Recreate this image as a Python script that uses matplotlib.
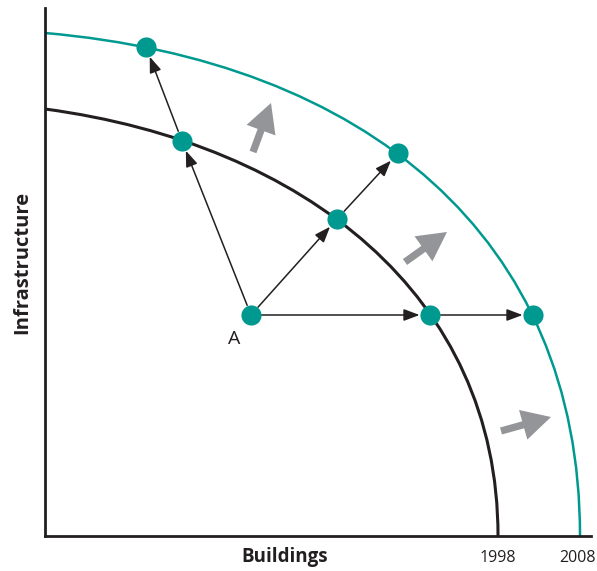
import matplotlib
matplotlib.use("Agg")
import matplotlib.pyplot as plt
from matplotlib.path import Path
from matplotlib.patches import PathPatch

plt.rcParams['font.family'] = ['Open Sans', 'DejaVu Sans']

# frontiers as single bezier curves: start on y axis, two handles, end on x axis
# (x = buildings, y = infrastructure)
frontier_1998 = [(0, 427), (260, 392), (453, 240), (453, 0)]
frontier_2008 = [(0, 503), (320, 475), (535, 300), (535, 0)]

# points on / inside the frontiers
point_A = (206, 221)
on_1998 = [(137, 395), (292, 317), (385, 221)]
on_2008 = [(101, 489), (353, 383), (488, 221)]

# grey "shift" arrows (tail, tip)
shift_arrows = [((208, 384), (226, 433)),
                ((360, 274), (402, 304)),
                ((456, 105), (506, 119))]

year_ticks = [453, 535]
year_labels = ['1998', '2008']

teal = '#00998f'
dark = '#231f20'
grey = '#939598'

fig = plt.figure(figsize=(5.97, 5.71), dpi=100)
ax = fig.add_axes([45 / 597, 35 / 571, 546 / 597, 528 / 571])
ax.set_xlim(0, 546)
ax.set_ylim(0, 528)

curve_codes = [Path.MOVETO, Path.CURVE4, Path.CURVE4, Path.CURVE4]
ax.add_patch(PathPatch(Path(frontier_1998, curve_codes), fill=False, ec=dark, lw=2.2))
ax.add_patch(PathPatch(Path(frontier_2008, curve_codes), fill=False, ec=teal, lw=1.8))

arrow_kw = dict(arrowstyle='-|>,head_length=0.8,head_width=0.3', color=dark, lw=1.1,
                shrinkA=7.5, shrinkB=7.5, mutation_scale=12)
for start, end in [(point_A, on_1998[0]), (on_1998[0], on_2008[0]),
                   (point_A, on_1998[1]), (on_1998[1], on_2008[1]),
                   (point_A, on_1998[2]), (on_1998[2], on_2008[2])]:
    ax.annotate('', xy=end, xytext=start, arrowprops=arrow_kw)

for tail, tip in shift_arrows:
    ax.annotate('', xy=tip, xytext=tail,
                arrowprops=dict(arrowstyle='simple,head_length=0.8,head_width=0.85,tail_width=0.2',
                                color=grey, lw=0, shrinkA=0, shrinkB=0, mutation_scale=26))

dots = [point_A] + on_1998 + on_2008
ax.plot([d[0] for d in dots], [d[1] for d in dots], 'o', ms=14.5, color=teal,
        mec='none', zorder=5, clip_on=False)

ax.annotate('A', point_A, xytext=(-12, -17), textcoords='offset points',
            fontsize=14, color=dark, ha='center', va='center')

for side in ['top', 'right']:
    ax.spines[side].set_visible(False)
for side in ['left', 'bottom']:
    ax.spines[side].set_linewidth(2)
    ax.spines[side].set_color(dark)

ax.set_yticks([])
ax.set_xticks(year_ticks)
ax.set_xticklabels([])
ax.tick_params(axis='x', length=0)
# year labels under their frontier ends; the last one kept inside the canvas
for x, lab, dx in zip(year_ticks, year_labels, [0, -2]):
    ax.annotate(lab, (x, 0), xytext=(dx, -16), textcoords='offset points',
                fontsize=11.5, color=dark, ha='center', va='center', annotation_clip=False)

fig.text(285 / 597, 1 - 557 / 571, 'Buildings', fontsize=13.5, fontweight='bold',
         color=dark, ha='center', va='center')
fig.text(22 / 597, 1 - 262 / 571, 'Infrastructure', fontsize=14.5, fontweight='bold',
         color=dark, ha='center', va='center', rotation=90)

fig.savefig('out.png', dpi=100)
